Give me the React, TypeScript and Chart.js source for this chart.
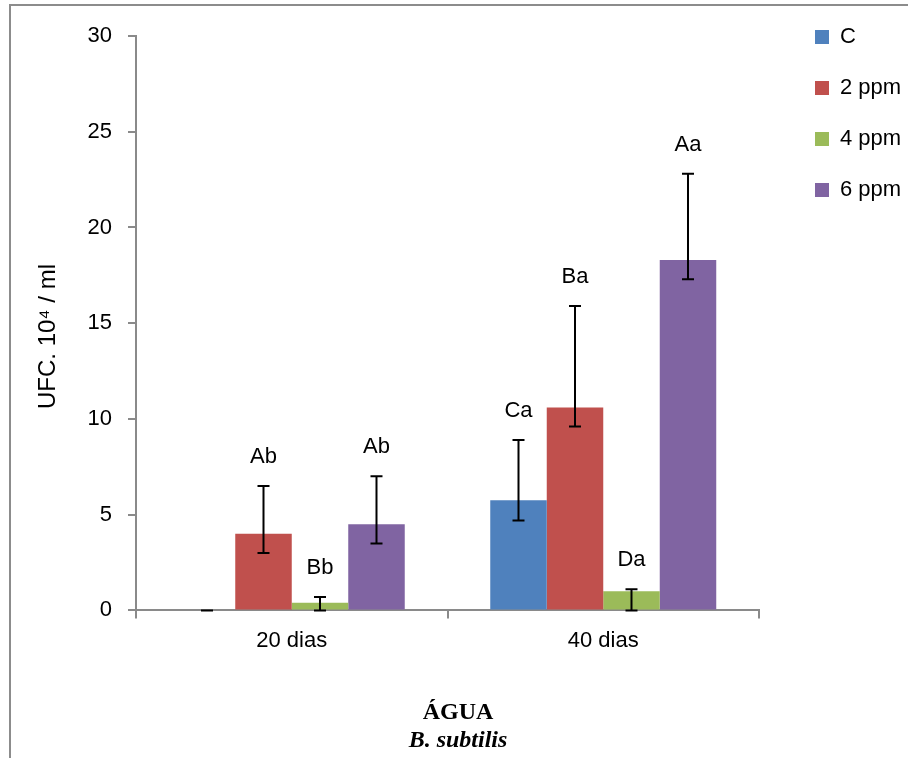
import React, { useEffect, useRef } from "react";
import { Chart, registerables } from "chart.js";

Chart.register(...registerables);

// ---- data ----
const categories = ["20 dias", "40 dias"];
const seriesNames = ["C", "2 ppm", "4 ppm", "6 ppm"];
const seriesColors = ["#4F81BD", "#C0504D", "#9BBB59", "#8064A2"];

const valuesC = [0, 5.75];
const values2ppm = [4.0, 10.6];
const values4ppm = [0.4, 1.0];
const values6ppm = [4.5, 18.3];

const errLowC = [0, 4.7];
const errHighC = [0, 8.9];
const errLow2ppm = [3.0, 9.6];
const errHigh2ppm = [6.5, 15.9];
const errLow4ppm = [0, 0];
const errHigh4ppm = [0.7, 1.1];
const errLow6ppm = [3.5, 17.3];
const errHigh6ppm = [7.0, 22.8];

const lettersC = ["", "Ca"];
const letters2ppm = ["Ab", "Ba"];
const letters4ppm = ["Bb", "Da"];
const letters6ppm = ["Ab", "Aa"];

const yMin = 0;
const yMax = 30;
const yStep = 5;

const yAxisTitle = "UFC. 10\u2074 / ml    ";
const bottomTitle1 = "ÁGUA";
const bottomTitle2 = "B. subtilis";

const SANS = "'Liberation Sans', Arial, sans-serif";
const SERIF = "'Liberation Serif', 'Times New Roman', serif";
const AXIS_GRAY = "#8a8a8a";

const framePlugin = {
  id: "frame",
  beforeDraw(chart: any) {
    const { ctx, width, height } = chart;
    ctx.save();
    ctx.fillStyle = "#ffffff";
    ctx.fillRect(0, 0, width, height);
    ctx.strokeStyle = "#8c8c8c";
    ctx.lineWidth = 2;
    ctx.beginPath();
    ctx.moveTo(10, height);
    ctx.lineTo(10, 5);
    ctx.lineTo(width, 5);
    ctx.stroke();
    ctx.restore();
  },
};

const errorBarPlugin = {
  id: "errorBars",
  afterDatasetsDraw(chart: any) {
    const { ctx } = chart;
    const yScale = chart.scales.y;
    ctx.save();
    chart.data.datasets.forEach((ds: any, i: number) => {
      const meta = chart.getDatasetMeta(i);
      meta.data.forEach((bar: any, j: number) => {
        const lo = ds.errLow[j];
        const hi = ds.errHigh[j];
        const x = bar.x;
        const yl = yScale.getPixelForValue(lo);
        const yh = yScale.getPixelForValue(hi);
        const cap = 6;
        ctx.strokeStyle = "#000000";
        ctx.lineWidth = 2;
        ctx.beginPath();
        ctx.moveTo(x, yl);
        ctx.lineTo(x, yh);
        ctx.moveTo(x - cap, yl);
        ctx.lineTo(x + cap, yl);
        ctx.moveTo(x - cap, yh);
        ctx.lineTo(x + cap, yh);
        ctx.stroke();
        const label = ds.letters[j];
        if (label) {
          ctx.fillStyle = "#000000";
          ctx.font = `22px ${SANS}`;
          ctx.textAlign = "center";
          ctx.textBaseline = "middle";
          ctx.fillText(label, x, yh - 29);
        }
      });
    });
    ctx.restore();
  },
};

export default function App() {
  const canvasRef = useRef<HTMLCanvasElement | null>(null);

  useEffect(() => {
    if (!canvasRef.current) return;
    Chart.defaults.font.family = SANS;
    Chart.defaults.color = "#000000";

    const values = [valuesC, values2ppm, values4ppm, values6ppm];
    const lows = [errLowC, errLow2ppm, errLow4ppm, errLow6ppm];
    const highs = [errHighC, errHigh2ppm, errHigh4ppm, errHigh6ppm];
    const letters = [lettersC, letters2ppm, letters4ppm, letters6ppm];

    const chart = new Chart(canvasRef.current, {
      type: "bar",
      data: {
        labels: categories,
        datasets: seriesNames.map((name, i) => ({
          label: name,
          data: values[i],
          backgroundColor: seriesColors[i],
          borderWidth: 0,
          yAxisID: "y",
          errLow: lows[i],
          errHigh: highs[i],
          letters: letters[i],
          categoryPercentage: 0.7255,
          barPercentage: 1.0,
        })) as any,
      },
      options: {
        responsive: false,
        animation: false,
        layout: { padding: { top: -3, left: 8, right: 0, bottom: 3 } },
        scales: {
          x: {
            grid: {
              display: true,
              offset: true,
              drawOnChartArea: false,
              drawTicks: true,
              tickLength: 8,
              color: AXIS_GRAY,
              lineWidth: 2,
            },
            border: { display: true, color: AXIS_GRAY, width: 2 },
            ticks: { font: { size: 22, family: SANS }, color: "#000", padding: 9 },
          },
          y: {
            min: yMin,
            max: yMax,
            grid: {
              display: true,
              drawOnChartArea: false,
              drawTicks: true,
              tickLength: 8,
              color: AXIS_GRAY,
              lineWidth: 2,
            },
            border: { display: true, color: AXIS_GRAY, width: 2 },
            ticks: { stepSize: yStep, font: { size: 22, family: SANS }, color: "#000", padding: 16 },
            title: {
              display: true,
              text: yAxisTitle,
              font: { size: 24, family: SANS },
              color: "#000",
              padding: { top: 26, bottom: 0 },
            },
            afterFit(scale: any) {
              scale.width = 128;
              scale.paddingTop = 36;
            },
          },
          y2: {
            type: "linear",
            position: "right",
            display: true,
            grid: { display: false },
            border: { display: false },
            ticks: { display: false },
            afterFit(scale: any) {
              scale.width = 27;
            },
          },
        } as any,
        plugins: {
          legend: {
            display: true,
            position: "right",
            align: "start",
            maxWidth: 122,
            labels: {
              boxWidth: 14,
              boxHeight: 14,
              padding: 29,
              color: "#000",
              font: { size: 22, family: SANS },
            },
          },
          tooltip: { enabled: false },
          subtitle: {
            display: true,
            position: "bottom",
            text: bottomTitle1,
            color: "#000",
            font: { size: 24, family: SERIF, weight: "bold", lineHeight: 1.1 },
            padding: { top: 37, bottom: 0 },
          },
          title: {
            display: true,
            position: "bottom",
            text: bottomTitle2,
            color: "#000",
            font: { size: 24, family: SERIF, weight: "bold", style: "italic", lineHeight: 1.2 },
            padding: { top: 0, bottom: 0 },
          },
        } as any,
      },
      plugins: [framePlugin, errorBarPlugin],
    });
    return () => chart.destroy();
  }, []);

  return (
    <div style={{ position: "fixed", left: 0, top: 0, width: 908, height: 758, background: "#fff" }}>
      <canvas ref={canvasRef} width={908} height={758} style={{ display: "block" }} />
    </div>
  );
}
